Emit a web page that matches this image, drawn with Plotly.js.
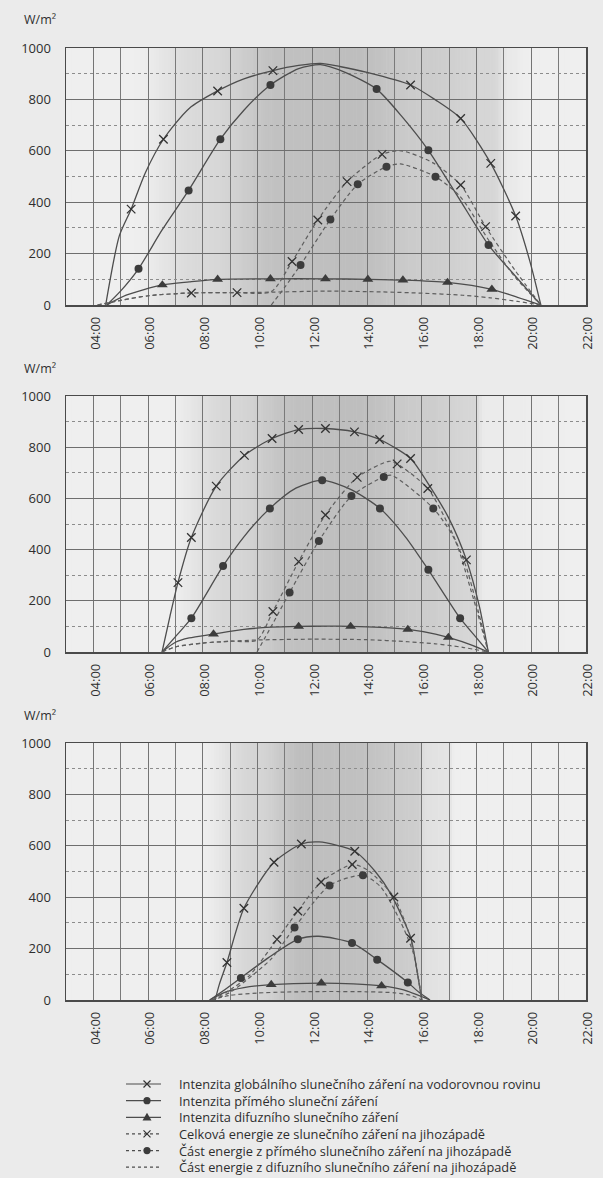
<!DOCTYPE html>
<html>
<head>
<meta charset="utf-8">
<script src="https://cdn.plot.ly/plotly-3.0.1.min.js"></script>
<style>
  html, body { margin: 0; padding: 0; background: #ebebeb; }
  #chart { width: 603px; height: 1178px; }
</style>
</head>
<body>
<div id="chart"></div>
<script>
// ---------------- DATA (hours of day, W/m²) ----------------
const tickHours  = [4, 6, 8, 10, 12, 14, 16, 18, 20, 22];
const tickLabels = ['04:00', '06:00', '08:00', '10:00', '12:00', '14:00', '16:00', '18:00', '20:00', '22:00'];
const yTickVals  = [0, 200, 400, 600, 800, 1000];
const unitLabel  = 'W/m²';
const legendLabels = [
  'Intenzita globálního slunečního záření na vodorovnou rovinu',
  'Intenzita přímého sluneční záření',
  'Intenzita difuzního slunečního záření',
  'Celková energie ze slunečního záření na jihozápadě',
  'Část energie z přímého slunečního záření na jihozápadě',
  'Část energie z difuzního slunečního záření na jihozápadě'
];

// --- Chart 1 (top) ---
const c1_glob_x = [4.45, 4.95, 5.38, 5.9, 6.56, 7.5, 8.54, 9.5, 10.56, 11.5, 12.3, 13.0, 14.0, 15.59, 16.5, 17.42, 18.52, 19.43, 19.95, 20.35];
const c1_glob_y = [0, 270, 373, 515, 645, 765, 833, 880, 912, 932, 940, 928, 905, 856, 798, 726, 551, 346, 170, 0];
const c1_glob_mx = [5.38, 6.56, 8.54, 10.56, 15.59, 17.42, 18.52, 19.43];
const c1_glob_my = [373, 645, 833, 912, 856, 726, 551, 346];

const c1_dir_x = [4.49, 5.0, 5.65, 6.5, 7.48, 8.64, 9.5, 10.47, 11.5, 12.3, 13.2, 14.35, 15.3, 16.24, 17.3, 18.44, 19.4, 20.35];
const c1_dir_y = [0, 55, 141, 290, 446, 645, 758, 856, 920, 935, 905, 840, 730, 602, 425, 233, 115, 0];
const c1_dir_mx = [5.65, 7.48, 8.64, 10.47, 14.35, 16.24, 18.44];
const c1_dir_my = [141, 446, 645, 856, 840, 602, 233];

const c1_dif_x = [4.49, 5.2, 6.52, 7.5, 8.54, 10.47, 12.48, 14.03, 15.31, 16.94, 18.56, 19.5, 20.35];
const c1_dif_y = [0, 38, 78, 90, 100, 102, 102, 100, 97, 88, 61, 30, 0];
const c1_dif_mx = [6.52, 8.54, 10.47, 12.48, 14.03, 15.31, 16.94, 18.56];
const c1_dif_my = [78, 100, 102, 102, 100, 97, 88, 61];

const c1_swTot_x = [4.15, 5.0, 6.0, 7.58, 9.25, 10.5, 11.26, 12.2, 13.27, 14.55, 15.25, 16.43, 17.42, 18.33, 19.4, 20.35];
const c1_swTot_y = [0, 18, 36, 47, 48, 52, 169, 331, 480, 586, 600, 552, 467, 305, 136, 0];
const c1_swTot_mx = [7.58, 9.25, 11.26, 12.2, 13.27, 14.55, 17.42, 18.33];
const c1_swTot_my = [47, 48, 169, 331, 480, 586, 467, 305];

const c1_swDir_x = [10.5, 11.0, 11.57, 12.66, 13.66, 14.71, 15.22, 16.5, 17.42, 18.44, 19.4, 20.35];
const c1_swDir_y = [0, 70, 156, 333, 470, 538, 549, 499, 420, 253, 110, 0];
const c1_swDir_mx = [11.57, 12.66, 13.66, 14.71, 16.5];
const c1_swDir_my = [156, 333, 470, 538, 499];

const c1_swDif_x = [4.15, 5.0, 6.0, 7.58, 9.25, 10.5, 12.5, 14.5, 16.0, 17.5, 18.5, 19.5, 20.35];
const c1_swDif_y = [0, 18, 36, 47, 48, 50, 54, 51, 46, 38, 28, 14, 0];

// --- Chart 2 (middle) ---
const c2_glob_x = [6.51, 6.8, 7.09, 7.58, 8.49, 9.52, 10.53, 11.5, 12.48, 13.54, 14.46, 15.59, 16.22, 17.0, 17.63, 18.1, 18.43];
const c2_glob_y = [0, 140, 271, 447, 648, 768, 834, 869, 873, 860, 830, 756, 660, 520, 360, 180, 0];
const c2_glob_mx = [7.09, 7.58, 8.49, 9.52, 10.53, 11.5, 12.48, 13.54, 14.46, 15.59, 17.63];
const c2_glob_my = [271, 447, 648, 768, 834, 869, 873, 860, 830, 756, 360];

const c2_dir_x = [6.51, 7.0, 7.58, 8.74, 9.5, 10.45, 11.4, 12.36, 13.4, 14.47, 15.4, 16.24, 17.4, 18.0, 18.43];
const c2_dir_y = [0, 60, 132, 336, 450, 561, 640, 671, 635, 561, 450, 321, 132, 55, 0];
const c2_dir_mx = [7.58, 8.74, 10.45, 12.36, 14.47, 16.24, 17.4];
const c2_dir_my = [132, 336, 561, 671, 561, 321, 132];

const c2_dif_x = [6.51, 7.0, 7.5, 8.39, 9.5, 10.5, 11.5, 12.5, 13.4, 14.5, 15.49, 16.5, 16.97, 17.8, 18.43];
const c2_dif_y = [0, 38, 55, 70, 88, 97, 100, 101, 100, 96, 88, 70, 57, 28, 0];
const c2_dif_mx = [8.39, 11.5, 13.4, 15.49, 16.97];
const c2_dif_my = [70, 100, 100, 88, 57];

const c2_swTot_x = [6.51, 7.0, 8.0, 9.0, 9.98, 10.56, 11.5, 12.48, 13.64, 14.8, 15.1, 16.22, 17.0, 17.63, 18.43];
const c2_swTot_y = [0, 20, 35, 42, 47, 158, 353, 535, 682, 745, 735, 639, 490, 330, 0];
const c2_swTot_mx = [10.56, 11.5, 12.48, 13.64, 15.1, 16.22];
const c2_swTot_my = [158, 353, 535, 682, 735, 639];

const c2_swDir_x = [9.98, 10.5, 11.17, 12.24, 13.43, 14.61, 14.9, 16.42, 17.2, 17.8, 18.43];
const c2_swDir_y = [0, 100, 232, 434, 609, 684, 690, 561, 440, 240, 0];
const c2_swDir_mx = [11.17, 12.24, 13.43, 14.61, 16.42];
const c2_swDir_my = [232, 434, 609, 684, 561];

const c2_swDif_x = [6.51, 7.0, 8.0, 9.0, 10.0, 12.0, 14.0, 15.5, 16.5, 17.5, 18.43];
const c2_swDif_y = [0, 20, 35, 42, 47, 50, 48, 40, 32, 18, 0];

// --- Chart 3 (bottom) ---
const c3_glob_x = [8.45, 8.6, 8.88, 9.5, 10.6, 11.6, 12.25, 13.55, 14.3, 14.86, 15.59, 15.8, 16.0];
const c3_glob_y = [0, 60, 146, 357, 536, 607, 615, 579, 500, 414, 245, 130, 0];
const c3_glob_mx = [8.88, 9.5, 10.6, 11.6, 13.55];
const c3_glob_my = [146, 357, 536, 607, 579];

const c3_dir_x = [8.25, 8.8, 9.39, 10.4, 11.47, 12.23, 13.45, 14.37, 15.49, 15.9, 16.3];
const c3_dir_y = [0, 40, 86, 165, 236, 248, 222, 157, 68, 30, 0];
const c3_dir_mx = [9.39, 11.47, 13.45, 14.37, 15.49];
const c3_dir_my = [86, 236, 222, 157, 68];

const c3_dif_x = [8.25, 8.8, 9.5, 10.5, 12.33, 13.5, 14.53, 15.3, 16.3];
const c3_dif_y = [0, 30, 48, 60, 66, 63, 55, 40, 0];
const c3_dif_mx = [10.5, 12.33, 14.53];
const c3_dif_my = [60, 66, 55];

const c3_swTot_x = [8.35, 9.0, 9.7, 10.71, 11.47, 12.32, 13.46, 14.0, 14.98, 15.59, 15.8, 16.0];
const c3_swTot_y = [0, 40, 95, 236, 346, 459, 527, 507, 401, 240, 130, 0];
const c3_swTot_mx = [10.71, 11.47, 12.32, 13.46, 14.98, 15.59];
const c3_swTot_my = [236, 346, 459, 527, 401, 240];

const c3_swDir_x = [8.35, 9.0, 9.8, 10.5, 11.35, 12.63, 13.85, 14.5, 15.2, 15.7, 16.0];
const c3_swDir_y = [0, 30, 95, 160, 282, 446, 485, 440, 310, 180, 0];
const c3_swDir_mx = [11.35, 12.63, 13.85];
const c3_swDir_my = [282, 446, 485];

const c3_swDif_x = [8.3, 9.0, 10.0, 11.0, 12.5, 14.0, 15.0, 15.6, 16.0];
const c3_swDif_y = [0, 18, 27, 31, 33, 32, 28, 18, 0];

// ---------------- LAYOUT / STYLE ----------------
const W = 603, H = 1178, ML = 66, MR = 17, MT = 48, MB = 178;
const PW = W - ML - MR, PH = H - MT - MB;
const px2x = px => (px - ML) / PW;
const py2y = py => (H - MB - py) / PH;

const FONT = 'Open Sans, Noto Sans, sans-serif';
const TXT = '#2e2e2e';
const SOLID = { color: '#4d4d4d', width: 1.3, shape: 'spline', smoothing: 0.7 };
const DASHED = { color: '#5e5e5e', width: 1.2, shape: 'spline', smoothing: 0.7, dash: '4px,3px' };
const MK = {
  x: { symbol: 'x-thin', size: 8.5, color: '#333', line: { width: 1.3, color: '#333' } },
  o: { symbol: 'circle', size: 8, color: '#3c3c3c' },
  t: { symbol: 'triangle-up', size: 9.5, color: '#3c3c3c' }
};

const charts = [
  { n: '', dom: [py2y(305), py2y(48)],
    lines: [[c1_glob_x, c1_glob_y, SOLID], [c1_dir_x, c1_dir_y, SOLID], [c1_dif_x, c1_dif_y, SOLID],
            [c1_swTot_x, c1_swTot_y, DASHED], [c1_swDir_x, c1_swDir_y, DASHED], [c1_swDif_x, c1_swDif_y, DASHED]],
    marks: [[c1_glob_mx, c1_glob_my, 'x'], [c1_dir_mx, c1_dir_my, 'o'], [c1_dif_mx, c1_dif_my, 't'],
            [c1_swTot_mx, c1_swTot_my, 'x'], [c1_swDir_mx, c1_swDir_my, 'o']],
    shade: [[3, 0], [5.3, 0], [8, 0.45], [11, 0.95], [13.5, 1], [16, 0.72], [18.6, 0.5], [19.2, 0.12], [20, 0], [22, 0]] },
  { n: '2', dom: [py2y(652), py2y(396)],
    lines: [[c2_glob_x, c2_glob_y, SOLID], [c2_dir_x, c2_dir_y, SOLID], [c2_dif_x, c2_dif_y, SOLID],
            [c2_swTot_x, c2_swTot_y, DASHED], [c2_swDir_x, c2_swDir_y, DASHED], [c2_swDif_x, c2_swDif_y, DASHED]],
    marks: [[c2_glob_mx, c2_glob_my, 'x'], [c2_dir_mx, c2_dir_my, 'o'], [c2_dif_mx, c2_dif_my, 't'],
            [c2_swTot_mx, c2_swTot_my, 'x'], [c2_swDir_mx, c2_swDir_my, 'o']],
    shade: [[3, 0], [6.6, 0], [9, 0.5], [11.5, 0.95], [13.5, 1], [16, 0.72], [17.9, 0.5], [18.3, 0.08], [22, 0]] },
  { n: '3', dom: [0, py2y(743)],
    lines: [[c3_glob_x, c3_glob_y, SOLID], [c3_dir_x, c3_dir_y, SOLID], [c3_dif_x, c3_dif_y, SOLID],
            [c3_swTot_x, c3_swTot_y, DASHED], [c3_swDir_x, c3_swDir_y, DASHED], [c3_swDif_x, c3_swDif_y, DASHED]],
    marks: [[c3_glob_mx, c3_glob_my, 'x'], [c3_dir_mx, c3_dir_my, 'o'], [c3_dif_mx, c3_dif_my, 't'],
            [c3_swTot_mx, c3_swTot_my, 'x'], [c3_swDir_mx, c3_swDir_my, 'o']],
    shade: [[3, 0], [7.8, 0], [10, 0.55], [11.7, 1], [13.5, 0.95], [15.9, 0.68], [16.1, 0.3], [17, 0.22], [17.2, 0], [22, 0]] }
];

function shadeAt(stops, h) {
  for (let i = 0; i < stops.length - 1; i++) {
    const [h0, v0] = stops[i], [h1, v1] = stops[i + 1];
    if (h >= h0 && h <= h1) {
      const t = (h - h0) / (h1 - h0);
      const s = t * t * (3 - 2 * t);
      return v0 + (v1 - v0) * s;
    }
  }
  return 0;
}
const LIGHT = 239, DARK = 190;

const traces = [];
const shapes = [];
const annotations = [];
const layout = {
  width: W, height: H,
  margin: { l: ML, r: MR, t: MT, b: MB, pad: 0 },
  paper_bgcolor: '#ebebeb',
  plot_bgcolor: '#efefef',
  showlegend: false,
  font: { family: FONT, size: 13, color: TXT },
  shapes: shapes,
  annotations: annotations
};

charts.forEach(c => {
  const xa = 'x' + c.n, ya = 'y' + c.n;
  c.lines.forEach(([xs, ys, st]) => {
    traces.push({ type: 'scatter', mode: 'lines', x: xs, y: ys, xaxis: xa, yaxis: ya,
      line: st, hoverinfo: 'skip', cliponaxis: true });
  });
  c.marks.forEach(([xs, ys, k]) => {
    traces.push({ type: 'scatter', mode: 'markers', x: xs, y: ys, xaxis: xa, yaxis: ya,
      marker: MK[k], hoverinfo: 'skip', cliponaxis: true });
  });
  // gray daylight gradient behind the grid
  const step = 0.1;
  for (let h = 3; h < 22 - 1e-9; h += step) {
    const v = shadeAt(c.shade, h + step / 2);
    const g = Math.round(LIGHT - v * (LIGHT - DARK));
    shapes.push({ type: 'rect', layer: 'below', xref: xa, yref: ya + ' domain',
      x0: h, x1: h + step + 0.02, y0: 0, y1: 1, line: { width: 0 },
      fillcolor: `rgb(${g},${g},${g})` });
  }
  layout['xaxis' + c.n] = {
    anchor: ya, domain: [0, 1], range: [3, 22], fixedrange: true,
    tickmode: 'array', tickvals: tickHours, ticktext: tickLabels, tickangle: -90,
    ticks: '', ticklabelstandoff: 5, ticklabelshift: 2,
    showgrid: true, gridcolor: '#747474', gridwidth: 1,
    minor: { tickmode: 'linear', tick0: 3, dtick: 1, showgrid: true, gridcolor: '#7a7a7a', gridwidth: 1, ticks: '' },
    showline: true, mirror: true, linecolor: '#4a4a4a', linewidth: 1.5,
    zeroline: false, tickfont: { family: FONT, size: 13, color: TXT }
  };
  layout['yaxis' + c.n] = {
    anchor: xa, domain: c.dom, range: [0, 1000], fixedrange: true,
    tickmode: 'array', tickvals: yTickVals, ticks: '', ticklabelstandoff: 11,
    showgrid: true, gridcolor: '#6e6e6e', gridwidth: 1,
    minor: { tickmode: 'linear', tick0: 0, dtick: 100, showgrid: true, gridcolor: '#8c8c8c', gridwidth: 1, griddash: 'dot', ticks: '' },
    showline: true, mirror: true, linecolor: '#4a4a4a', linewidth: 1.5,
    zeroline: false, tickfont: { family: FONT, size: 13, color: TXT }
  };
  annotations.push({ xref: 'paper', yref: ya + ' domain', x: px2x(22), y: 1 + 28 / 257,
    xanchor: 'left', yanchor: 'middle', showarrow: false, text: unitLabel,
    font: { family: FONT, size: 12.5, color: TXT } });
});

// ---------------- custom legend (one multi-line text block + symbol samples) ----------------
const LEG_FS = 12.8;
const LEG_LH = LEG_FS * 1.3;           // Plotly line height for multi-line text
const LEG_Y0 = 1084;                   // centre of first row, px
const legendKinds = [['solid', 'x'], ['solid', 'o'], ['solid', 't'], ['dash', 'x'], ['dash', 'o'], ['dash', null]];
legendKinds.forEach(([ls, mk], i) => {
  const yy = py2y(LEG_Y0 + LEG_LH * i);
  shapes.push({ type: 'line', xref: 'paper', yref: 'paper', x0: px2x(126), x1: px2x(161), y0: yy, y1: yy,
    line: { color: '#4d4d4d', width: 1.2, dash: ls === 'dash' ? '3px,3px' : 'solid' } });
  const base = { xref: 'paper', yref: 'paper', xsizemode: 'pixel', ysizemode: 'pixel', xanchor: px2x(147), yanchor: yy };
  if (mk === 'x') {
    shapes.push(Object.assign({ type: 'path', path: 'M-3.5,-3.5L3.5,3.5M-3.5,3.5L3.5,-3.5', line: { color: '#333', width: 1.2 } }, base));
  } else if (mk === 'o') {
    shapes.push(Object.assign({ type: 'circle', x0: -3.6, x1: 3.6, y0: -3.6, y1: 3.6, fillcolor: '#3c3c3c', line: { width: 0 } }, base));
  } else if (mk === 't') {
    shapes.push(Object.assign({ type: 'path', path: 'M-4.5,-3.2L4.5,-3.2L0,4.6Z', fillcolor: '#3c3c3c', line: { width: 0 } }, base));
  }
});
annotations.push({ xref: 'paper', yref: 'paper', x: px2x(177),
  y: py2y(LEG_Y0 + LEG_LH * (legendLabels.length - 1) / 2),
  xanchor: 'left', yanchor: 'middle', align: 'left', valign: 'middle',
  showarrow: false, text: legendLabels.join('<br>'),
  font: { family: FONT, size: LEG_FS, color: TXT } });

Plotly.newPlot('chart', traces, layout, { staticPlot: true, displayModeBar: false });
</script>
</body>
</html>
